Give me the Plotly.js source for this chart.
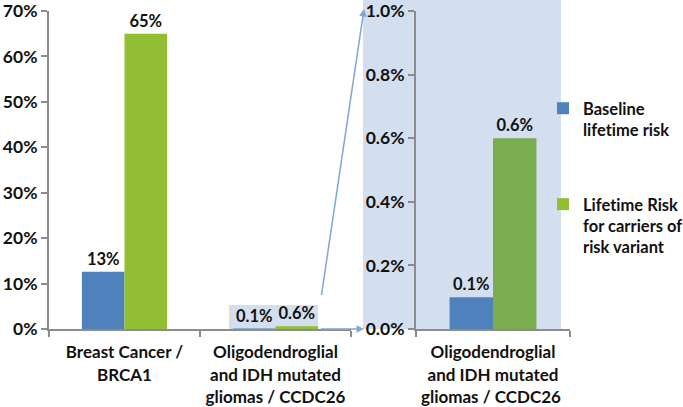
<!DOCTYPE html>
<html>
<head>
<meta charset="utf-8">
<script src="https://cdn.plot.ly/plotly-3.0.1.min.js"></script>
<style>html,body{margin:0;padding:0;background:#fff;}#chart{width:683px;height:407px;}
svg text{font-variant-ligatures:none !important;font-feature-settings:"liga" 0 !important;}</style>
</head>
<body>
<div id="chart"></div>
<script>
// ---- data ----
const categories = ["Breast Cancer /<br>BRCA1", "Oligodendroglial<br>and IDH mutated<br>gliomas / CCDC26"];
const zoomCategory = ["Oligodendroglial<br>and IDH mutated<br>gliomas / CCDC26 "];
const baselineRisk = [0.126, 0.001];
const carrierRisk = [0.65, 0.006];
const baselineLabels = ["13%", "0.1%"];
const carrierLabels = ["65%", "0.6%"];
const zoomBaseline = [0.001];
const zoomCarrier = [0.006];
const zoomBaselineLabels = ["0.1%"];
const zoomCarrierLabels = ["0.6%"];
const seriesNames = ["Baseline<br>lifetime risk", "Lifetime Risk<br>for carriers of<br>risk variant"];

const FONT = "Lato, 'Open Sans', sans-serif";
const BLUE = "#4F81BD", GREEN = "#92BE33", GREEN2 = "#7AAD4F";
const AX = "#8C8C8C";
const txtFont = {family: FONT, size: 16.5, color: "#111", weight: 700};

const traces = [
  {type: "bar", x: categories, y: baselineRisk, text: baselineLabels, name: seriesNames[0],
   xaxis: "x", yaxis: "y", marker: {color: BLUE}, legendgroup: "a",
   textposition: "outside", textfont: txtFont, cliponaxis: false, constraintext: "none", hoverinfo: "skip"},
  {type: "bar", x: categories, y: carrierRisk, text: carrierLabels, name: seriesNames[1],
   xaxis: "x", yaxis: "y", marker: {color: GREEN}, legendgroup: "b",
   textposition: "outside", textfont: txtFont, cliponaxis: false, constraintext: "none", hoverinfo: "skip"},
  {type: "bar", x: zoomCategory, y: zoomBaseline, text: zoomBaselineLabels, showlegend: false,
   xaxis: "x2", yaxis: "y2", marker: {color: BLUE}, legendgroup: "a",
   textposition: "outside", textfont: txtFont, cliponaxis: false, constraintext: "none", hoverinfo: "skip"},
  {type: "bar", x: zoomCategory, y: zoomCarrier, text: zoomCarrierLabels, showlegend: false,
   xaxis: "x2", yaxis: "y2", marker: {color: GREEN2}, legendgroup: "b",
   textposition: "outside", textfont: txtFont, cliponaxis: false, constraintext: "none", hoverinfo: "skip"}
];

const axisCommon = {
  showline: true, linecolor: AX, linewidth: 2, ticks: "outside", ticklen: 6, tickwidth: 2,
  tickcolor: AX, showgrid: false, zeroline: false, fixedrange: true
};
const tickFont = {family: FONT, size: 17.5, color: "#111", weight: 700};
const catFont = {family: FONT, size: 17, color: "#111", weight: 700};

const L = 49, T = 11, PW = 521, PH = 318;
const px = v => (v - L) / PW;
const py = v => (T + PH - v) / PH;

const layout = {
  width: 683, height: 407,
  margin: {l: L, r: 683 - L - PW, t: T, b: 407 - T - PH, autoexpand: false},
  paper_bgcolor: "#fff", plot_bgcolor: "rgba(0,0,0,0)",
  barmode: "group", bargap: 0.436,
  showlegend: true,
  legend: {x: px(543), y: py(91), xanchor: "left", yanchor: "top", traceorder: "grouped",
           tracegroupgap: 50, valign: "top", bgcolor: "rgba(0,0,0,0)",
           font: {family: FONT, size: 16.5, color: "#111", weight: 700}},
  xaxis: Object.assign({}, axisCommon, {domain: [0, px(351)], anchor: "y", type: "category",
          range: [-0.5, 1.5], tickson: "boundaries", tickfont: catFont, tickangle: 0, ticklabelstandoff: 7}),
  yaxis: Object.assign({}, axisCommon, {domain: [0, 1], anchor: "x", range: [0, 0.7], dtick: 0.1,
          tickformat: ".0%", tickfont: tickFont}),
  xaxis2: Object.assign({}, axisCommon, {domain: [px(416), 1], anchor: "y2", type: "category",
          range: [-0.5, 0.5], tickson: "boundaries", tickfont: catFont, tickangle: 0, ticklabelstandoff: 7}),
  yaxis2: Object.assign({}, axisCommon, {domain: [0, 1], anchor: "x2", range: [0, 0.01], dtick: 0.002,
          tickformat: ".1%", tickfont: tickFont}),
  shapes: [
    {type: "rect", xref: "paper", yref: "paper", x0: px(363), x1: px(561), y0: 0, y1: py(0),
     fillcolor: "#D3DFEE", line: {width: 0}, layer: "below"},
    {type: "rect", xref: "paper", yref: "paper", x0: px(229), x1: px(318), y0: 0, y1: py(305),
     fillcolor: "#D3DFEE", line: {width: 0}, layer: "below"}
  ],
  annotations: [
    {xref: "paper", yref: "paper", x: px(364), y: py(9), ax: -44, ay: 296, text: " ",
     showarrow: true, arrowhead: 2, arrowsize: 1, arrowwidth: 1.5, arrowcolor: "#7FA6D8", standoff: 0},
    {xref: "paper", yref: "paper", x: px(364), y: py(329), ax: -46, ay: 0, text: " ",
     showarrow: true, arrowhead: 2, arrowsize: 1, arrowwidth: 1.5, arrowcolor: "#7FA6D8", standoff: 0}
  ]
};

Plotly.newPlot("chart", traces, layout, {displayModeBar: false, staticPlot: true});
</script>
</body>
</html>
